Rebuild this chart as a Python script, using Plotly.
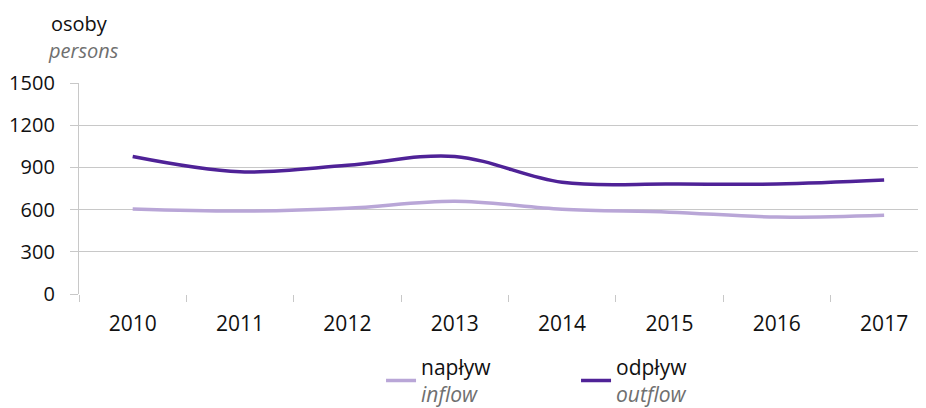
import plotly.graph_objects as go

years = ["2010", "2011", "2012", "2013", "2014", "2015", "2016", "2017"]
inflow = [605, 590, 610, 660, 603, 582, 547, 560]
outflow = [978, 869, 915, 978, 794, 782, 782, 810]
y_ticks = [0, 300, 600, 900, 1200, 1500]

FONT = "Open Sans, Noto Sans, sans-serif"
GRID = "#c8c8c8"
MUTED = "#6f6f6f"


def legend_label(pl, en):
    return f"{pl}<br><span style='color:{MUTED}'><i>{en}</i></span>"


fig = go.Figure()
fig.add_trace(
    go.Scatter(
        x=years,
        y=inflow,
        mode="lines",
        name=legend_label("napływ", "inflow"),
        line={"color": "#b9a6d7", "width": 3.5, "shape": "spline", "smoothing": 1},
    )
)
fig.add_trace(
    go.Scatter(
        x=years,
        y=outflow,
        mode="lines",
        name=legend_label("odpływ", "outflow"),
        line={"color": "#4f2297", "width": 3.5, "shape": "spline", "smoothing": 1},
    )
)

# page has an 8px body margin, so the figure is kept to 918x400
fig.update_layout(
    width=918,
    height=400,
    margin={"l": 71, "r": 0, "t": 75, "b": 114, "autoexpand": False},
    paper_bgcolor="white",
    plot_bgcolor="white",
    font={"family": FONT, "size": 20, "color": "#111111"},
    hovermode=False,
    xaxis={
        "type": "category",
        "range": [-0.5, 7.39],
        "tickson": "boundaries",
        "ticks": "outside",
        "ticklen": 7,
        "tickcolor": GRID,
        "showgrid": False,
        "showline": False,
        "zeroline": False,
        "ticklabelstandoff": 15,
        "tickfont": {"size": 21},
    },
    yaxis={
        "range": [0, 1500],
        "tickvals": y_ticks,
        "ticks": "outside",
        "ticklen": 8,
        "tickcolor": GRID,
        "showgrid": True,
        "gridcolor": GRID,
        "gridwidth": 1.3,
        "showline": True,
        "linecolor": GRID,
        "linewidth": 1.3,
        "zeroline": False,
        "ticklabelstandoff": 11,
        "tickfont": {"size": 20},
    },
    legend={
        "orientation": "h",
        "x": 0.3566,
        "xanchor": "left",
        "y": -0.25,
        "yanchor": "top",
        "valign": "middle",
        "entrywidth": 150,
        "font": {"size": 21, "color": "#111111"},
        "bgcolor": "rgba(0,0,0,0)",
    },
    annotations=[
        {
            "text": "osoby",
            "xref": "paper",
            "yref": "paper",
            "x": 0.0,
            "y": 1.284,
            "xanchor": "center",
            "yanchor": "middle",
            "showarrow": False,
            "font": {"size": 20, "color": "#111111"},
        },
        {
            "text": "<i>persons</i>",
            "xref": "paper",
            "yref": "paper",
            "x": 0.005,
            "y": 1.156,
            "xanchor": "center",
            "yanchor": "middle",
            "showarrow": False,
            "font": {"size": 20, "color": MUTED},
        },
    ],
)

fig.write_html("out.html")
